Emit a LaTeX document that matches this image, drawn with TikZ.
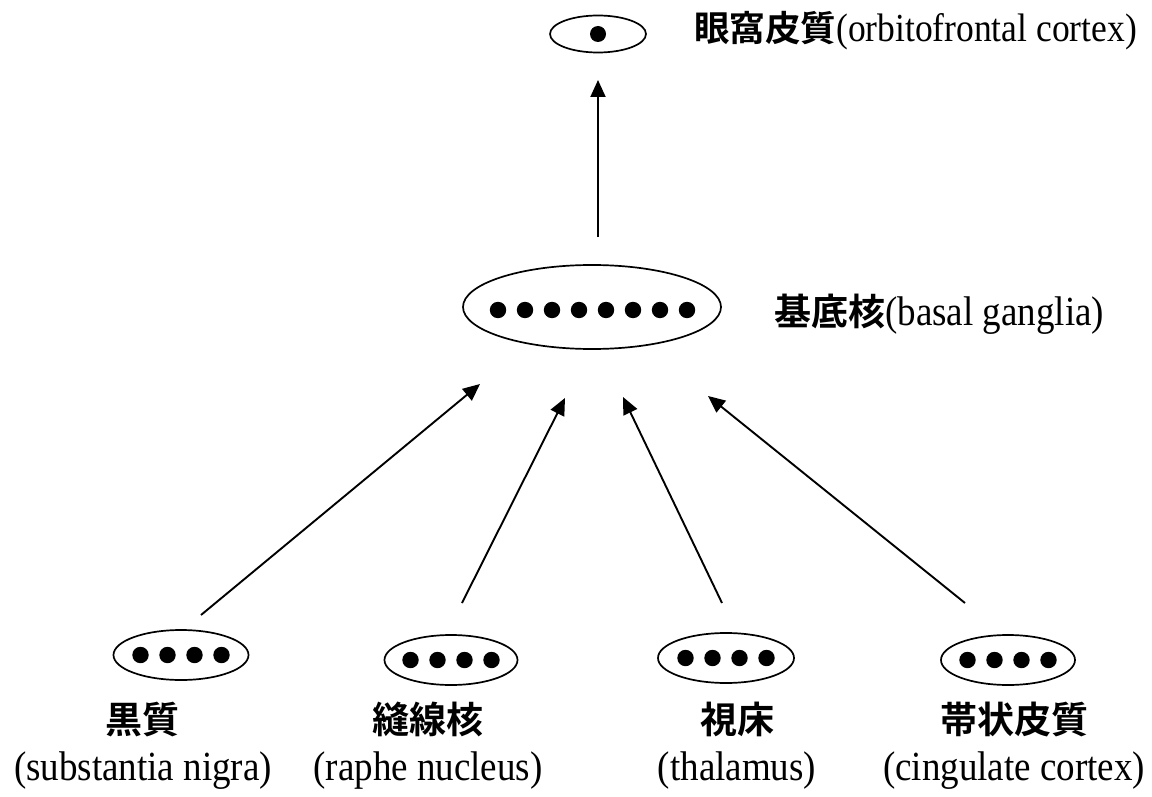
\documentclass[tikz,border=0pt]{standalone}
\usepackage{fontspec}
\setmainfont{Liberation Serif}
\newfontfamily\cjk{Noto Sans CJK JP Bold}
\usetikzlibrary{shapes.geometric,arrows.meta}
\newcommand{\lat}[1]{\scalebox{1}[1.12]{#1}}
\begin{document}
\begin{tikzpicture}[x=1pt,y=-1pt,
  region/.style={draw=black,line width=1.7pt,ellipse,inner sep=0pt},
  link/.style={line width=1.9pt,-{Triangle[length=17pt,width=15pt]}},
  lab/.style={inner sep=0pt,font=\fontsize{37}{47}\selectfont},
  toplab/.style={inner sep=0pt,font=\fontsize{35.5}{47}\selectfont},
  dot/.style={fill=black}]
\useasboundingbox (0,0) rectangle (1152,797);
% top
\node[region,minimum width=96pt,minimum height=37pt] (ofc) at (598,34) {};
\fill[dot] (598,34) circle (8pt);
\node[toplab,anchor=west] (ofcl) at (694,31) {{\cjk 眼窩皮質}\lat{(orbitofrontal cortex)}};
% middle
\node[region,minimum width=258pt,minimum height=84pt] (bg) at (592,307) {};
\foreach \i in {0,...,7} \fill[dot] (498+27*\i,310) circle (8.2pt);
\node[lab,anchor=west] (bgl) at (774,314) {{\cjk 基底核}\lat{(basal ganglia)}};
% bottom
\node[region,minimum width=135pt,minimum height=50pt] (sn) at (181,655) {};
\node[region,minimum width=133pt,minimum height=50pt] (rn) at (451,660) {};
\node[region,minimum width=136pt,minimum height=50pt] (th) at (726,658) {};
\node[region,minimum width=134pt,minimum height=50pt] (cc) at (1008,660) {};
\foreach \c/\y in {181/655,451/660,726/658,1008/660}
  \foreach \i in {-1.5,-0.5,0.5,1.5} \fill[dot] (\c+27*\i,\y) circle (8.2pt);
\node[lab,align=center] (snl) at (143,746) {{\cjk 黒質}\\\lat{(substantia nigra)}};
\node[lab,align=center] (rnl) at (428,746) {{\cjk 縫線核}\\\lat{(raphe nucleus)}};
\node[lab,align=center] (thl) at (737,746) {{\cjk 視床}\\\lat{(thalamus)}};
\node[lab,align=center] (ccl) at (1014,746) {{\cjk 帯状皮質}\\\lat{(cingulate cortex)}};
% arrows
\coordinate (t0) at (598,237); \coordinate (h0) at (598,80);
\coordinate (t1) at (201,615); \coordinate (h1) at (480,384);
\coordinate (t2) at (462,603); \coordinate (h2) at (565,398);
\coordinate (t3) at (722,603); \coordinate (h3) at (623,397);
\coordinate (t4) at (965,603); \coordinate (h4) at (708,396);
\foreach \k in {0,...,4} \draw[link] (t\k) -- (h\k);
\end{tikzpicture}
\end{document}
